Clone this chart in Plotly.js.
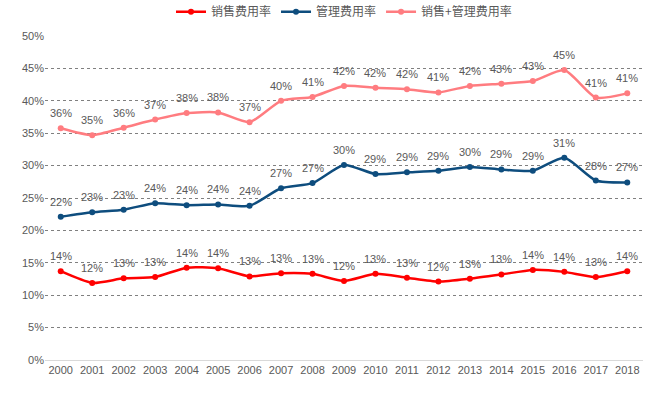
<!DOCTYPE html>
<html>
<head>
<meta charset="utf-8">
<script src="https://cdn.plot.ly/plotly-3.0.1.min.js"></script>
<style>html,body{margin:0;padding:0;background:#fff;}#chart{width:658px;height:394px;}</style>
</head>
<body>
<div id="chart"></div>
<script>
const years = ["2000","2001","2002","2003","2004","2005","2006","2007","2008","2009","2010","2011","2012","2013","2014","2015","2016","2017","2018"];
const salesRate = [13.7,11.9,12.6,12.8,14.25,14.15,12.9,13.4,13.3,12.2,13.3,12.7,12.1,12.55,13.2,13.9,13.6,12.8,13.7];
const adminRate = [22.1,22.8,23.2,24.2,23.9,24.0,23.8,26.5,27.3,30.1,28.7,28.96,29.2,29.8,29.4,29.2,31.2,27.7,27.4];
const totalRate = [35.76,34.7,35.85,37.1,38.1,38.2,36.7,40.0,40.6,42.3,42.0,41.8,41.3,42.3,42.65,43.05,44.75,40.5,41.15];
const seriesNames = ["销售费用率","管理费用率","销售+管理费用率"];
const tickVals = [0,5,10,15,20,25,30,35,40,45,50];

const labelFont = {family: 'Liberation Sans, Arial, sans-serif', size: 11, color: '#595959'};

function mk(name, y, color) {
  return {
    type: 'scatter', mode: 'lines+markers', name: name,
    x: years, y: y,
    line: {color: color, width: 2.5, shape: 'spline', smoothing: 0.6},
    marker: {color: color, size: 6},
    cliponaxis: false,
    hoverinfo: 'x+y'
  };
}

const data = [
  mk(seriesNames[0], salesRate, '#FF0000'),
  mk(seriesNames[1], adminRate, '#0E4D7E'),
  mk(seriesNames[2], totalRate, '#FF7C80')
];

const annotations = [];
[salesRate, adminRate, totalRate].forEach(arr => {
  arr.forEach((v, i) => {
    annotations.push({x: i, y: v, xref: 'x', yref: 'y', text: Math.round(v) + '%',
      showarrow: false, yshift: 15, font: labelFont});
  });
});

const layout = {
  width: 658, height: 394,
  margin: {l: 45, r: 15, t: 36, b: 34, autoexpand: false},
  paper_bgcolor: '#fff', plot_bgcolor: '#fff',
  showlegend: true,
  annotations: annotations,
  legend: {orientation: 'h', x: 0.5, xanchor: 'center', y: 1.075, yanchor: 'middle',
    font: {family: 'Noto Sans CJK SC, sans-serif', size: 12, color: '#595959'},
    tracegroupgap: 0},
  xaxis: {type: 'category', range: [-0.5, 18.5], showgrid: false, zeroline: false,
    showline: true, linecolor: '#D9D9D9', linewidth: 1, ticks: '',
    tickfont: labelFont},
  yaxis: {range: [0, 50], tickvals: tickVals, ticktext: tickVals.map(v => v + '%'),
    showgrid: true, gridcolor: '#808080', griddash: 'dot', gridwidth: 1,
    zeroline: false, showline: false, ticks: '',
    tickfont: labelFont}
};

Plotly.newPlot('chart', data, layout, {displayModeBar: false, staticPlot: true});
</script>
</body>
</html>
